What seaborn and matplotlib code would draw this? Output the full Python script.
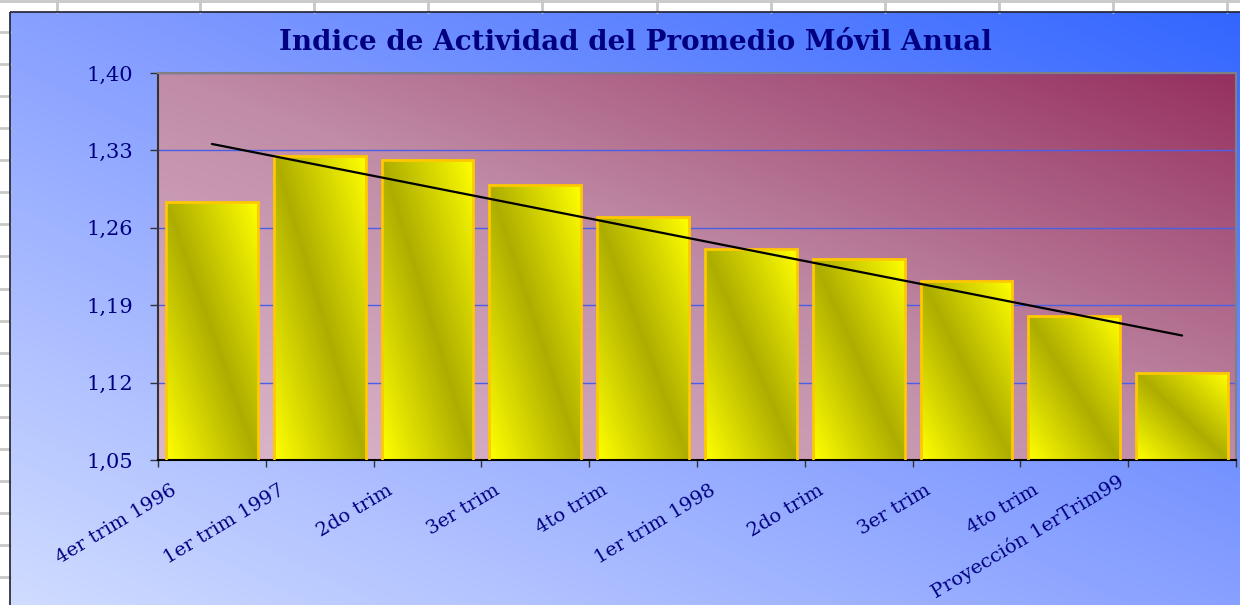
import numpy as np
import matplotlib
matplotlib.use("Agg")
import matplotlib.pyplot as plt
import matplotlib.transforms as mtransforms
from matplotlib.colors import LinearSegmentedColormap, to_rgb
from matplotlib.patches import Rectangle
import seaborn as sns

# data
trimestres = [
    "4er trim 1996", "1er trim 1997", "2do trim", "3er trim", "4to trim",
    "1er trim 1998", "2do trim", "3er trim", "4to trim", "Proyección 1erTrim99",
]
indice = [1.283, 1.325, 1.321, 1.299, 1.270, 1.241, 1.232, 1.212, 1.180, 1.129]
y_ticks = [1.05, 1.12, 1.19, 1.26, 1.33, 1.40]
titulo = "Indice de Actividad del Promedio Móvil Anual"

sns.set_style("white")
plt.rcParams["font.family"] = ["DejaVu Serif"]

navy = "#000080"
W, H = 1240, 605

fig = plt.figure(figsize=(W / 100, H / 100), dpi=100)
fig.patch.set_facecolor("white")

# spreadsheet behind the chart
bg = fig.add_axes([0, 0, 1, 1])
bg.set_xlim(0, W)
bg.set_ylim(H, 0)
bg.axis("off")
for xv in [57, 200, 314, 428, 542, 657, 771, 885, 999, 1113, 1227]:
    bg.plot([xv, xv], [0, 12], color="#c8c8c8", lw=2)
for yv in np.arange(32, H, 32.07):
    bg.plot([0, 10], [yv, yv], color="#c8c8c8", lw=2)
bg.plot([0, W], [1, 1], color="#c8c8c8", lw=2)

# chart area gradient
outer_cmap = LinearSegmentedColormap.from_list("outer", ["#d0dcff", "#88a0ff", "#3366ff"])
u = np.linspace(0, 1, 300)
v = np.linspace(1, 0, 150)
U, V = np.meshgrid(u, v)
bg.imshow((U + V) / 2, cmap=outer_cmap, vmin=0, vmax=1, extent=(10, W + 2, H + 2, 12),
          aspect="auto", interpolation="bilinear", zorder=1)
bg.add_patch(Rectangle((10, 12), W, H, fill=False, edgecolor="#202030", lw=1.2, zorder=2))
bg.set_xlim(0, W)
bg.set_ylim(H, 0)

# title
fig.text(635 / W, 1 - 43 / H, titulo, ha="center", va="center", fontsize=20,
         fontweight="bold", color=navy)

# plot area
ax = fig.add_axes([158 / W, (H - 460) / H, (1236 - 158) / W, (460 - 73) / H])
plot_cmap = LinearSegmentedColormap.from_list("plot", ["#dcb8cc", "#c08ca6", "#96305f"])
ax.imshow((U + V) / 2, cmap=plot_cmap, vmin=0, vmax=1, extent=(0, 1, 0, 1),
          transform=ax.transAxes, aspect="auto", interpolation="bilinear", zorder=0.1)

pos = np.arange(len(indice))
sns.barplot(x=pos, y=indice, width=0.85, ax=ax, facecolor="none",
            edgecolor="#ffc800", linewidth=2)

# yellow / olive diagonal fill in each bar
yellow = np.array(to_rgb("#ffff00"))
olive = np.array(to_rgb("#adad00"))
bu = np.linspace(0, 1, 60)
bv = np.linspace(1, 0, 120)
BU, BV = np.meshgrid(bu, bv)
s = 1 - np.abs(BU + BV - 1)
grad = yellow * (1 - s[..., None]) + olive * s[..., None]
for bar in ax.patches:
    x0 = bar.get_x()
    x1 = x0 + bar.get_width()
    top = bar.get_y() + bar.get_height()
    im = ax.imshow(grad, extent=(x0, x1, y_ticks[0], top), aspect="auto",
                   interpolation="bilinear", zorder=2)
    im.set_clip_path(bar)
    bar.set_zorder(3)

# linear trend line
sns.regplot(x=pos, y=indice, scatter=False, ci=None, truncate=True, ax=ax,
            color="black", line_kws={"lw": 1.6, "zorder": 5})

ax.set_xlim(-0.5, len(indice) - 0.5)
ax.set_ylim(y_ticks[0], y_ticks[-1])
ax.set_xlabel("")
ax.set_ylabel("")
ax.set_axisbelow(True)
ax.yaxis.grid(True, color="#4b5fe6", lw=1)
ax.xaxis.grid(False)

ax.set_yticks(y_ticks)
ax.set_yticklabels([f"{t:.2f}".replace(".", ",") for t in y_ticks])
ax.tick_params(axis="y", direction="out", length=6, width=1, color="#333333",
               pad=12, labelsize=15, labelcolor=navy, left=True)

ax.set_xticks(np.arange(len(indice) + 1) - 0.5)
ax.set_xticklabels(trimestres + [""], rotation=31, ha="right", va="center",
                   rotation_mode="anchor")
ax.tick_params(axis="x", direction="out", length=5, width=1, color="#333333",
               pad=0, labelsize=14, labelcolor=navy, bottom=True)
offset = mtransforms.ScaledTranslation(0.17, -0.22, fig.dpi_scale_trans)
for lab in ax.get_xticklabels():
    lab.set_transform(lab.get_transform() + offset)

for side in ["top", "right"]:
    ax.spines[side].set_color("#808080")
    ax.spines[side].set_linewidth(1.5)
ax.spines["left"].set_color("#333333")
ax.spines["left"].set_linewidth(1.5)
ax.spines["bottom"].set_color("black")
ax.spines["bottom"].set_linewidth(1.5)

# push labels that run off the bottom back inside, like Excel does
fig.canvas.draw()
renderer = fig.canvas.get_renderer()
for lab in ax.get_xticklabels():
    if not lab.get_text():
        continue
    bb = lab.get_window_extent(renderer)
    if bb.y0 < 3:
        up = 3 - bb.y0
        fit = mtransforms.ScaledTranslation(-2.5 * up / 100, up / 100, fig.dpi_scale_trans)
        lab.set_transform(lab.get_transform() + fit)

fig.savefig("out.png", dpi=100)
